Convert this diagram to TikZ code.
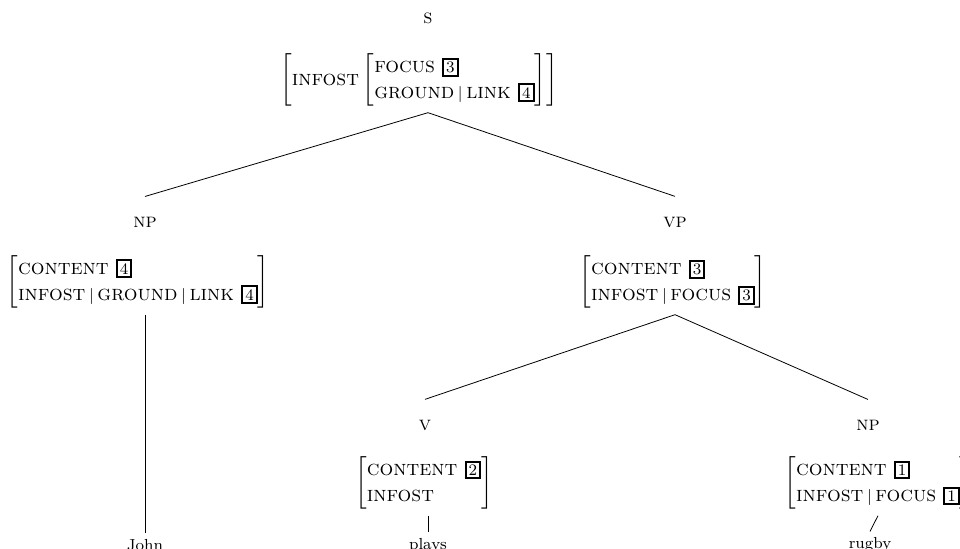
\documentclass[tikz,border=0pt]{standalone}
\usepackage{amsmath}
\usepackage{tikz}
\usetikzlibrary{positioning}
\newcommand{\feat}[1]{\textsc{#1}}
\newcommand{\fsep}{\,\text{\footnotesize$|$}\,}
\newcommand{\tagnum}[1]{{\setlength{\fboxsep}{1pt}\setlength{\fboxrule}{1pt}\fbox{\footnotesize #1}}}
\newcommand{\avm}[1]{$\left[\begin{array}{@{}l@{}}#1\end{array}\right]$}

\begin{document}
\begin{tikzpicture}[
    x=0.5pt, y=-0.5pt,
    cat/.style={font=\scshape, inner xsep=1pt, inner ysep=10pt},
    fs/.style={inner sep=3pt, font=\fontsize{10.8pt}{13pt}\selectfont},
    word/.style={inner sep=3pt, font=\footnotesize},
    branch/.style={thin}
]
\useasboundingbox (0,0) rectangle (960,548);
% root
\node[cat] (s) at (428,18) {s};
\node[fs] (sfs) at (419,80) {$\left[\feat{infost}\left[\begin{array}{@{}l@{}}\feat{focus}\ \tagnum{3}\\ \feat{ground}\fsep\feat{link}\ \tagnum{4}\end{array}\right]\right]$};
% subject
\node[cat] (np) at (145,222) {np};
\node[fs] (npfs) at (138,282) {\avm{\feat{content}\ \tagnum{4}\\ \feat{infost}\fsep\feat{ground}\fsep\feat{link}\ \tagnum{4}}};
\node[word] (john) at (145,545) {John};
% verb phrase
\node[cat] (vp) at (675,222) {vp};
\node[fs] (vpfs) at (673,282) {\avm{\feat{content}\ \tagnum{3}\\ \feat{infost}\fsep\feat{focus}\ \tagnum{3}}};
\node[cat] (v) at (425,425) {v};
\node[fs] (vfs) at (424,483) {\avm{\feat{content}\ \tagnum{2}\\ \feat{infost}}};
\node[word] (plays) at (428,546) {plays};
\node[cat] (obj) at (868,425) {np};
\node[fs] (objfs) at (878,483) {\avm{\feat{content}\ \tagnum{1}\\ \feat{infost}\fsep\feat{focus}\ \tagnum{1}}};
\node[word] (rugby) at (870,545) {rugby};

\draw[branch] (sfs.south -| s) -- (np.north);
\draw[branch] (sfs.south -| s) -- (vp.north);
\draw[branch] (npfs.south -| np) -- (john.north);
\draw[branch] (vpfs.south -| vp) -- (v.north);
\draw[branch] (vpfs.south -| vp) -- (obj.north);
\draw[branch] (vfs.south -| plays) -- (plays.north);
\draw[branch] (objfs.south) -- (rugby.north);
\end{tikzpicture}
\end{document}
